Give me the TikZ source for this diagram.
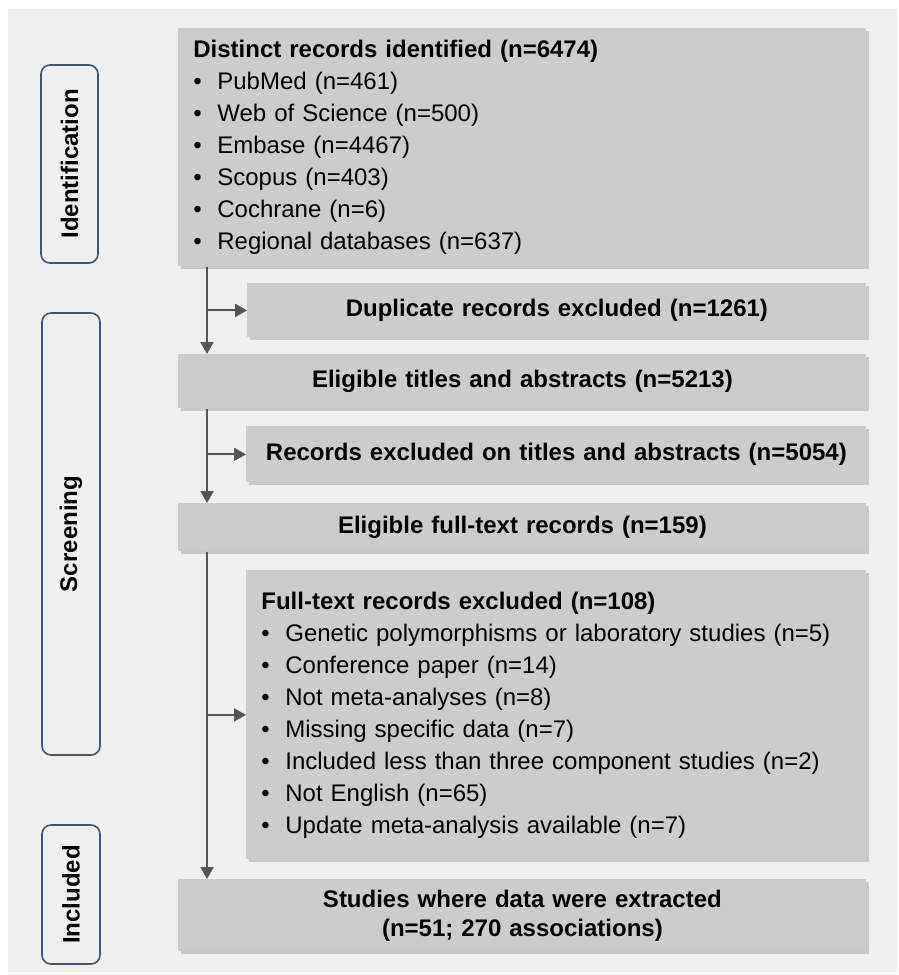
\documentclass[tikz,border=0pt]{standalone}
\usepackage{fontspec}
\setmainfont{Liberation Sans}
\usetikzlibrary{positioning,arrows.meta,shadows}

\definecolor{bgcol}{HTML}{EFEFEF}
\definecolor{boxcol}{HTML}{CCCCCC}
\definecolor{linecol}{HTML}{555555}
\definecolor{phasecol}{HTML}{44546A}

\tikzset{
    stagebox/.style={draw=none, fill=boxcol, rectangle, inner xsep=7.5pt, inner ysep=0pt,
        drop shadow={shadow xshift=1.5pt, shadow yshift=-1.5pt, fill=black!40, opacity=0.45}},
    listbox/.style={stagebox, anchor=north west, align=left},
    midbox/.style={stagebox, anchor=north west, align=center, font=\fontsize{12}{16}\selectfont\bfseries},
    phasebox/.style={draw=phasecol, line width=0.8pt, fill=bgcol, rounded corners=4.5pt,
        rotate=90, font=\fontsize{12}{16}\selectfont\bfseries, inner sep=0pt},
    flow/.style={draw=linecol, line width=1pt, -{Triangle[length=6pt,width=6.5pt]}}
}
\newcommand{\itm}[1]{\makebox[12pt][l]{\textbullet}#1}

\begin{document}
\begin{tikzpicture}[x=0.5pt, y=-0.5pt, font=\fontsize{12}{16}\selectfont]
    \useasboundingbox (0,0) rectangle (899,975);
    \fill[bgcol] (8,9) rectangle (897,972);

    % Phases
    \node[phasebox, minimum width=99pt, minimum height=28.5pt] (phaseid) at (69.5,164) {Identification};
    \node[phasebox, minimum width=221pt, minimum height=29pt] (phasescr) at (71,534) {Screening};
    \node[phasebox, minimum width=69.5pt, minimum height=29pt] (phaseinc) at (71,894.5) {Included};

    % Boxes
    \node[listbox, text width=329pt, minimum height=119pt] (ident) at (178,28)
        {\textbf{Distinct records identified (n=6474)}\\
         \itm{PubMed (n=461)}\\
         \itm{Web of Science (n=500)}\\
         \itm{Embase (n=4467)}\\
         \itm{Scopus (n=403)}\\
         \itm{Cochrane (n=6)}\\
         \itm{Regional databases (n=637)}};
    \node[midbox, text width=294.5pt, minimum height=27pt] (dupl) at (247,283)
        {Duplicate records excluded (n=1261)};
    \node[midbox, text width=329pt, minimum height=27pt] (titles) at (178,354)
        {Eligible titles and abstracts (n=5213)};
    \node[midbox, text width=295pt, minimum height=28pt] (absexcl) at (246,426)
        {Records excluded on titles and abstracts (n=5054)};
    \node[midbox, text width=329pt, minimum height=24pt] (fulltext) at (178,503)
        {Eligible full-text records (n=159)};
    \node[listbox, text width=295pt, minimum height=144.5pt] (fullexcl) at (246,570)
        {\textbf{Full-text records excluded (n=108)}\\
         \itm{Genetic polymorphisms or laboratory studies (n=5)}\\
         \itm{Conference paper (n=14)}\\
         \itm{Not meta-analyses (n=8)}\\
         \itm{Missing specific data (n=7)}\\
         \itm{Included less than three component studies (n=2)}\\
         \itm{Not English (n=65)}\\
         \itm{Update meta-analysis available (n=7)}};
    \node[midbox, text width=329pt, minimum height=36pt] (studies) at (178,879)
        {Studies where data were extracted\\[-1.5pt] (n=51; 270 associations)};

    % Arrows
    \coordinate (trunk) at (207,0);
    \draw[flow] (ident.south -| trunk) -- (titles.north -| trunk);
    \draw[flow] (dupl.west -| trunk) -- (dupl.west);
    \draw[flow] (titles.south -| trunk) -- (fulltext.north -| trunk);
    \draw[flow] (absexcl.west -| trunk) -- (absexcl.west);
    \draw[flow] (fulltext.south -| trunk) -- (studies.north -| trunk);
    \draw[flow] (fullexcl.west -| trunk) -- (fullexcl.west);

\end{tikzpicture}
\end{document}
